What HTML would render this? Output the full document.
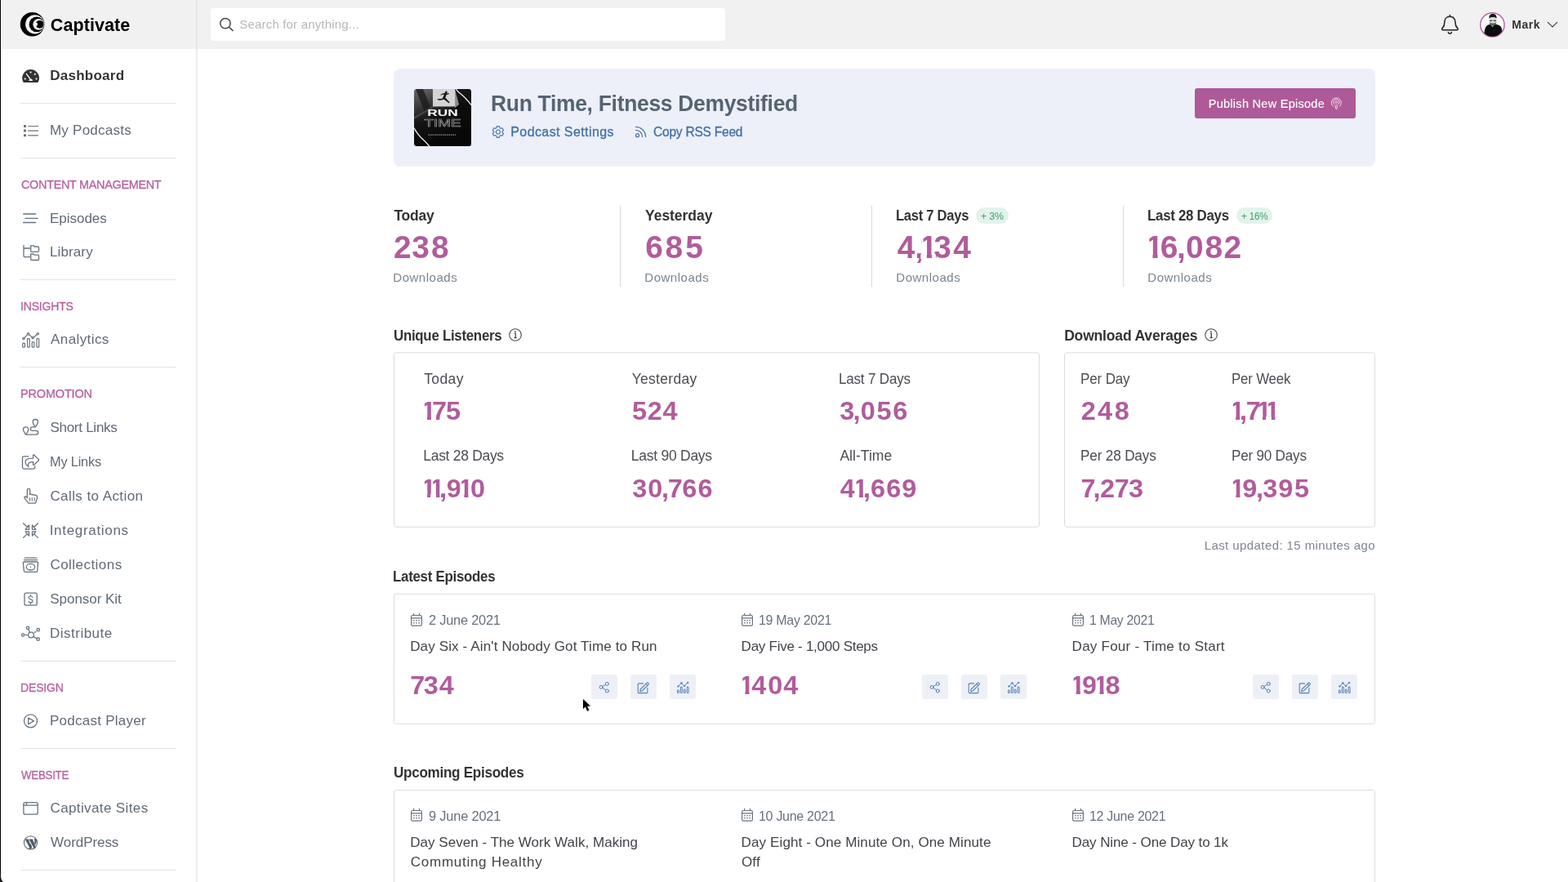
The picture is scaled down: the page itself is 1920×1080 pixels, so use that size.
<!DOCTYPE html>
<html lang="en">
<head>
<meta charset="utf-8">
<title>Captivate - Dashboard</title>
<style>
*{box-sizing:border-box;margin:0;padding:0}
html,body{width:1920px;height:1080px;overflow:hidden;background:#fff}
body{font-family:"Liberation Sans",sans-serif;color:#333;position:relative}
.t{position:absolute;white-space:nowrap;line-height:1;transform-origin:0 50%}
a{text-decoration:none}
text.num{font-family:"Liberation Sans",sans-serif;font-weight:700}
.a{position:absolute}
svg{display:block;overflow:visible}
svg.a{fill:none}
#edge{position:absolute;left:0;top:0;width:1px;height:1080px;background:#000;z-index:50}
#topbar{position:absolute;left:0;top:0;width:1920px;height:60px;background:#f1f1f1}
#sidebg{position:absolute;left:0;top:60px;width:242px;height:1020px;background:#fff;border-right:2px solid #eee}
#topdiv{position:absolute;left:240px;top:0;width:2px;height:60px;background:#e6e6e6}
#search{position:absolute;left:257.5px;top:10px;width:630.5px;height:40px;background:#fff;border-radius:3px}
.hr{position:absolute;left:25px;width:191px;height:1px;background:#e3e3e3}
#hero{position:absolute;left:482px;top:84px;width:1201.5px;height:120px;background:#edf0f9;border-radius:8px}
#pub{position:absolute;left:1463px;top:108px;width:197px;height:37px;background:#ae5a98;border-radius:3px}
.vr{position:absolute;top:252px;width:1px;height:99px;background:#d9d9d9}
.badge{position:absolute;top:253.5px;height:20px;border-radius:10px;background:#e3f3ec}
.btn{position:absolute;top:826px;width:32px;height:30px;border-radius:3px;background:#edf0f7}
</style>
</head>
<body>
<header>
<div id="topbar"></div>
<div id="topdiv"></div>
<div id="search"></div>
<svg class="a" style="left:16px;top:6px" width="48" height="48" viewBox="0 0 48 48" fill="none"><circle cx="23.6" cy="23.7" r="14.8" fill="#000"/><circle cx="26.7" cy="23.8" r="11.6" fill="#f1f1f1"/><circle cx="28.9" cy="23.8" r="9.3" fill="#000"/><circle cx="31.2" cy="23.8" r="6.9" fill="#f1f1f1"/><circle cx="32.7" cy="23.8" r="4.9" fill="#000"/><circle cx="27.9" cy="23.8" r="2.2" fill="#f1f1f1"/></svg>
<svg class="a" style="left:264px;top:16px" width="28" height="28" viewBox="0 0 28 28" fill="none" stroke="#444" stroke-width="1.5" stroke-linecap="round" stroke-linejoin="round"><circle cx="11.9" cy="12.6" r="6.2"/><path d="M16.4 17.2L21 21.4"/></svg>
<svg class="a" style="left:1756px;top:10px" width="40" height="40" viewBox="0 0 40 40" fill="none" stroke="#222" stroke-width="1.6" stroke-linecap="round" stroke-linejoin="round"><path d="M19.4 8.6v1.6M19.4 10.2c-4 0-6.6 3-6.6 7.2c0 4.2-1 5.4-2.7 7.2c-1 1.1-.3 2.1 1 2.1h16.6c1.3 0 2-1 1-2.1c-1.700-1.800-2.700-3-2.700-7.200c0-4.200-2.600-7.200-6.600-7.200z"/><path d="M17.3 29.6c.4 1.100 1.200 1.700 2.100 1.700s1.700-.6 2.100-1.700"/></svg>
<svg class="a" style="left:1808px;top:11px" width="40" height="40" viewBox="0 0 40 40" fill="none"><defs><clipPath id="av"><circle cx="19.4" cy="19.4" r="14.3"/></clipPath></defs><circle cx="19.4" cy="19.4" r="14.7" fill="#fdfdfd" stroke="#b35ea5" stroke-width="1.4"/><g clip-path="url(#av)"><path d="M9.500 34c-.4-6 .5-11 3-13.500c2-1.600 4.500-2 7-2.300c3 .2 6.500.7 9 2.300c2.500 2 3.600 6.500 3.200 13.500z" fill="#0d0d0d"/><path d="M16.600 18.600l3 3.800l2.900-3.800z" fill="#8a8a8a"/><rect x="15.500" y="9.500" width="9" height="9.800" rx="3.200" fill="#d9d9d9"/><path d="M15.400 11.500c-.3-3.600 1.500-5.600 4.600-5.600s4.900 2 4.600 5.600c-1.300-1.100-2.800-1.500-4.600-1.500s-3.300.4-4.600 1.500z" fill="#161616"/><path d="M16 14.400h3.300M20.700 14.400h3.300" stroke="#444" stroke-width="1.300"/><path d="M15.700 16.200c1.200.9 2.700 1.200 4.300 1.200s3.100-.3 4.300-1.200c-.1 2.300-1.700 3.700-4.300 3.700s-4.200-1.400-4.300-3.700z" fill="#5a5a5a"/></g></svg>
<svg class="a" style="left:1892px;top:22px" width="18" height="16" viewBox="0 0 18 16" fill="none" stroke="#333" stroke-width="1.1" stroke-linecap="round" stroke-linejoin="round"><path d="M3.300 5.300L9 10.800L14.700 5.300"/></svg>
<span class="t" style="left:61.83px;top:21.00px;color:#000;font-size:21.5px;font-weight:700;letter-spacing:0.08px;">Captivate</span>
<span class="t" style="left:293.31px;top:22.00px;color:#b7b7b7;font-size:15px;font-weight:400;letter-spacing:0.18px;">Search for anything...</span>
<span class="t" style="left:1851.33px;top:23.00px;color:#333;font-size:14px;font-weight:700;letter-spacing:0.48px;">Mark</span>
</header>
<nav>
<div id="sidebg"></div>
<div class="hr" style="top:126px"></div>
<div class="hr" style="top:193px"></div>
<div class="hr" style="top:342px"></div>
<div class="hr" style="top:449px"></div>
<div class="hr" style="top:809px"></div>
<div class="hr" style="top:916px"></div>
<div class="hr" style="top:1065px"></div>
<svg class="a" style="left:20px;top:76px" width="36" height="36" viewBox="0 0 36 36" fill="none"><path d="M8.800 25c-1-1.600-1.600-3.400-1.600-5.300c0-5.900 4.700-10.700 10.400-10.700s10.400 4.800 10.400 10.700c0 1.900-.6 3.700-1.600 5.300z" fill="#333"/><circle cx="17.6" cy="12.500" r="1.100" fill="#fff"/><circle cx="22.800" cy="14.800" r="1.100" fill="#fff"/><circle cx="10.700" cy="20.500" r="1.100" fill="#fff"/><circle cx="24.500" cy="20.500" r="1.100" fill="#fff"/><path d="M12.300 14.400L17 20.600" stroke="#fff" stroke-width="1.300" stroke-linecap="round"/><path d="M15.400 23c0-1.400 1-2.600 2.300-2.600s2.300 1.200 2.300 2.600z" fill="#fff"/></svg>
<svg class="a" style="left:20px;top:142px" width="36" height="36" viewBox="0 0 36 36" fill="none" stroke="#68727e" stroke-width="1.2" stroke-linecap="round" stroke-linejoin="round"><rect x="9" y="10.900" width="3" height="3" rx=".6" fill="#68727e" stroke="none"/><rect x="9" y="16.600" width="3" height="3" rx=".6" fill="#68727e" stroke="none"/><rect x="9" y="22.300" width="3" height="3" rx=".6" fill="#68727e" stroke="none"/><path d="M14.500 12.500h12M14.500 18.200h12M14.500 23.800h12"/></svg>
<svg class="a" style="left:20px;top:249px" width="36" height="36" viewBox="0 0 36 36" fill="none" stroke="#68727e" stroke-width="1.3" stroke-linecap="round" stroke-linejoin="round"><path d="M8.700 13h15M11 18.300h15.300M8.700 23.500h15"/></svg>
<svg class="a" style="left:20px;top:291px" width="36" height="36" viewBox="0 0 36 36" fill="none" stroke="#68727e" stroke-width="1.3" stroke-linecap="round" stroke-linejoin="round"><path d="M9 9.300v13.300c0 .6.400 1 1 1h6.500M9 13h7.500"/><path d="M17.7 9.8h3.200l1.300 1.200h4.300c.6 0 1 .4 1 1v4.300c0 .6-.4 1-1 1h-7.800c-.6 0-1-.4-1-1v-6.500z"/><path d="M17.7 20h3.200l1.300 1.200h4.300c.6 0 1 .4 1 1v4.300c0 .6-.4 1-1 1h-7.800c-.6 0-1-.4-1-1v-6.500z"/></svg>
<svg class="a" style="left:20px;top:398px" width="36" height="36" viewBox="0 0 36 36" fill="none" stroke="#68727e" stroke-width="1.2" stroke-linecap="round" stroke-linejoin="round"><path d="M9.800 15.700L13.600 11.800M15.500 11.700L19.400 15M21.300 15L25.300 11.500"/><circle cx="9" cy="16.500" r="1.200"/><circle cx="14.500" cy="10.800" r="1.200"/><circle cx="20.300" cy="15.800" r="1.200"/><circle cx="26.300" cy="10.700" r="1.200"/><rect x="7.700" y="22.200" width="2.700" height="5" rx=".8"/><rect x="13.500" y="16.600" width="2.700" height="10.600" rx=".8"/><rect x="19.200" y="20.900" width="2.700" height="6.300" rx=".8"/><rect x="25" y="16.600" width="2.700" height="10.600" rx=".8"/></svg>
<svg class="a" style="left:20px;top:505px" width="36" height="36" viewBox="0 0 36 36" fill="none" stroke="#68727e" stroke-width="1.3" stroke-linecap="round" stroke-linejoin="round"><path d="M23.3 17.8c-1.500-2.200-3.200-4.100-3.200-6.100a3.200 3.200 0 0 1 6.400 0c0 2-1.700 3.900-3.200 6.100z"/><path d="M11.6 27.2c-1.500-2.200-3.200-4.100-3.200-6.100a3.200 3.200 0 0 1 6.400 0c0 2-1.700 3.900-3.200 6.100z"/><path d="M22.500 17.800h-2.900a2.300 2.300 0 0 0 0 4.600h4.700a2.400 2.400 0 0 1 0 4.800h-12"/></svg>
<svg class="a" style="left:20px;top:547px" width="36" height="36" viewBox="0 0 36 36" fill="none" stroke="#68727e" stroke-width="1.3" stroke-linecap="round" stroke-linejoin="round"><path d="M15 11.800h-5.700c-1 0-1.800.8-1.800 1.800v11.700c0 1 .8 1.800 1.800 1.800h11.700c1 0 1.800-.8 1.800-1.800v-1.300"/><path d="M20.600 14.100v-3.700c0-.6.600-.9 1-.5l5.700 5.600c.4.400.4.900 0 1.300l-5.700 5.600c-.4.400-1 .1-1-.5v-3.300c-4 0-6.100.8-6.100 3.500c0 .9.200 1.700.4 2.300c-2.500-1.600-3.800-3.600-3.800-5.700c0-3.700 4-4.600 9.500-4.600z"/></svg>
<svg class="a" style="left:20px;top:589px" width="36" height="36" viewBox="0 0 36 36" fill="none" stroke="#68727e" stroke-width="1.3" stroke-linecap="round" stroke-linejoin="round"><path d="M13.300 19.500v-8.500a1.700 1.700 0 0 1 3.400 0v5.700c.5-.9 2.300-.8 2.700.3c.6-.8 2.200-.6 2.600.5c.8-.7 3.500-.2 3.500 2.200c0 2.300-.7 3.500-1 4.700c-.2 1-.5 2-1.500 2.800h-8c-.8-.8-4.400-5.700-5-6.500c-.6-1 .6-2.100 1.600-1.600c.6.300 1.200.9 1.700 1.400z"/><path d="M16.500 20.600v3.600M19.300 20.600v3.600M22.200 20.600v3.600" stroke-width="1.1"/></svg>
<svg class="a" style="left:20px;top:631px" width="36" height="36" viewBox="0 0 36 36" fill="none" stroke="#68727e" stroke-width="1.3" stroke-linecap="round" stroke-linejoin="round"><path d="M8.500 9.700L13.500 14.500M15.500 12v5.300h-4.500zM26.500 9.700L21.500 14.500M19.500 12v5.300h4.500z"/><path d="M8.500 27.400L13.500 22.600M15.500 25.100v-5.300h-4.500zM26.500 27.400L21.500 22.600M19.500 25.100v-5.300h4.500z"/></svg>
<svg class="a" style="left:20px;top:673px" width="36" height="36" viewBox="0 0 36 36" fill="none" stroke="#68727e" stroke-width="1.3" stroke-linecap="round" stroke-linejoin="round"><path d="M10.200 10.200h14.700M9.400 12.600h16.300"/><path d="M9.600 15h15.800c.8 0 1.300.6 1.200 1.400l-.9 9.600c-.1.800-.7 1.400-1.500 1.400h-13.400c-.8 0-1.400-.6-1.500-1.400l-.9-9.600c-.1-.8.400-1.400 1.200-1.400z"/><ellipse cx="17.500" cy="21.200" rx="5.200" ry="3.800"/><circle cx="17.500" cy="21.200" r=".8" fill="#68727e" stroke="none"/></svg>
<svg class="a" style="left:20px;top:715px" width="36" height="36" viewBox="0 0 36 36" fill="none" stroke="#68727e" stroke-width="1.3" stroke-linecap="round" stroke-linejoin="round"><rect x="10" y="11.200" width="15.200" height="15" rx="2"/><path d="M19.800 16.400c-.3-.9-1.200-1.400-2.300-1.400c-1.400 0-2.400.8-2.400 1.900c0 2.700 5 1.300 5 4c0 1.200-1.100 2-2.600 2c-1.200 0-2.200-.6-2.500-1.500M17.500 13.200v1.800M17.500 22.900v1.800" stroke-width="1.100"/></svg>
<svg class="a" style="left:20px;top:757px" width="36" height="36" viewBox="0 0 36 36" fill="none" stroke="#68727e" stroke-width="1.3" stroke-linecap="round" stroke-linejoin="round"><circle cx="18" cy="20.500" r="3.400"/><circle cx="14" cy="11.800" r="1.700"/><circle cx="26.800" cy="14.200" r="1.700"/><circle cx="8.300" cy="20.500" r="1.700"/><circle cx="26.700" cy="25.700" r="1.700"/><path d="M14.800 13.400l1.800 4M22.400 17.400l1.500-1.200M11.700 20.500h1.300M21 22.600l4.200 2.200"/></svg>
<svg class="a" style="left:20px;top:864px" width="36" height="36" viewBox="0 0 36 36" fill="none" stroke="#68727e" stroke-width="1.3" stroke-linecap="round" stroke-linejoin="round"><circle cx="17.500" cy="18.800" r="8"/><path d="M14.700 15v7.800l6.700-3.900z"/></svg>
<svg class="a" style="left:20px;top:971px" width="36" height="36" viewBox="0 0 36 36" fill="none" stroke="#68727e" stroke-width="1.3" stroke-linecap="round" stroke-linejoin="round"><rect x="8.900" y="11.700" width="17.300" height="14.500" rx="2"/><path d="M8.900 15.200h17.300M12.500 11.700v3.500"/></svg>
<svg class="a" style="left:20px;top:1013px" width="36" height="36" viewBox="0 0 36 36" fill="none"><circle cx="17.500" cy="18.800" r="8.100" stroke="#5b6673" stroke-width="1.100"/><path d="M10.600 14.400h4.200l3.600 10.300l-1 2.300zM15.300 14.400h4.700l3.500 10l-1.200 2.500zM21.600 14.200c1.600-.9 3.200.2 3.200 2c0 1.200-.5 2.400-1.700 6.300l-1.100-3.200c.6-2 .5-3.700-.4-5.100zM17.700 19.800l1.600 4.600l-1.900 2.300l-2.100-.2z" fill="#4f5b69"/></svg>
<a class="t" style="left:61.19px;top:84.00px;color:#333;font-size:17px;font-weight:700;letter-spacing:0.26px;">Dashboard</a>
<a class="t" style="left:60.96px;top:151.00px;color:#606a76;font-size:17px;font-weight:400;letter-spacing:0.24px;">My Podcasts</a>
<h3 class="t" style="left:25.53px;top:219.00px;color:#b6629f;font-size:14.5px;font-weight:400;-webkit-text-stroke:0.3px;letter-spacing:-0.30px;transform:scaleX(0.994);">CONTENT MANAGEMENT</h3>
<a class="t" style="left:60.97px;top:259.00px;color:#606a76;font-size:17px;font-weight:400;letter-spacing:-0.02px;">Episodes</a>
<a class="t" style="left:60.97px;top:300.00px;color:#606a76;font-size:17px;font-weight:400;letter-spacing:0.12px;">Library</a>
<h3 class="t" style="left:24.81px;top:368.00px;color:#b6629f;font-size:14.5px;font-weight:400;-webkit-text-stroke:0.3px;letter-spacing:-0.20px;transform:scaleX(0.967);">INSIGHTS</h3>
<a class="t" style="left:62.10px;top:407.00px;color:#606a76;font-size:17px;font-weight:400;letter-spacing:0.40px;">Analytics</a>
<h3 class="t" style="left:25.04px;top:475.00px;color:#b6629f;font-size:14.5px;font-weight:400;-webkit-text-stroke:0.3px;letter-spacing:-0.18px;">PROMOTION</h3>
<a class="t" style="left:61.38px;top:515.00px;color:#606a76;font-size:17px;font-weight:400;letter-spacing:-0.26px;">Short Links</a>
<a class="t" style="left:61.12px;top:557.00px;color:#606a76;font-size:17px;font-weight:400;letter-spacing:-0.20px;transform:scaleX(0.961);">My Links</a>
<a class="t" style="left:61.40px;top:599.00px;color:#606a76;font-size:17px;font-weight:400;letter-spacing:0.42px;">Calls to Action</a>
<a class="t" style="left:60.72px;top:641.00px;color:#606a76;font-size:17px;font-weight:400;letter-spacing:0.68px;">Integrations</a>
<a class="t" style="left:61.40px;top:683.00px;color:#606a76;font-size:17px;font-weight:400;letter-spacing:0.46px;">Collections</a>
<a class="t" style="left:61.27px;top:725.00px;color:#606a76;font-size:17px;font-weight:400;letter-spacing:-0.04px;">Sponsor Kit</a>
<a class="t" style="left:61.05px;top:767.00px;color:#606a76;font-size:17px;font-weight:400;letter-spacing:0.48px;">Distribute</a>
<h3 class="t" style="left:25.00px;top:835.00px;color:#b6629f;font-size:14.5px;font-weight:400;-webkit-text-stroke:0.3px;letter-spacing:-0.18px;transform:scaleX(0.968);">DESIGN</h3>
<a class="t" style="left:60.98px;top:874.00px;color:#606a76;font-size:17px;font-weight:400;letter-spacing:0.26px;">Podcast Player</a>
<h3 class="t" style="left:26.45px;top:942.00px;color:#b6629f;font-size:14.5px;font-weight:400;-webkit-text-stroke:0.3px;letter-spacing:-0.30px;transform:scaleX(0.919);">WEBSITE</h3>
<a class="t" style="left:61.52px;top:981.00px;color:#606a76;font-size:17px;font-weight:400;letter-spacing:0.38px;">Captivate Sites</a>
<a class="t" style="left:62.09px;top:1023.00px;color:#606a76;font-size:17px;font-weight:400;letter-spacing:-0.06px;">WordPress</a>
</nav>
<main>
<section>
<div id="hero"></div>
<div id="pub"></div>
<svg class="a" style="left:507px;top:109px" width="70" height="70" viewBox="0 0 70 70"><defs><clipPath id="cv"><rect width="70" height="70" rx="3.5"/></clipPath><linearGradient id="cg" x1="0" y1="0" x2=".35" y2="1"><stop offset="0" stop-color="#6a6a6a"/><stop offset=".3" stop-color="#3a3a3a"/><stop offset=".55" stop-color="#151515"/><stop offset="1" stop-color="#050505"/></linearGradient></defs><g clip-path="url(#cv)"><rect width="70" height="70" fill="url(#cg)"/><path d="M2 0l9 0l9 22l-7 6z" fill="#1d1d1d" opacity=".8"/><path d="M0 34l23-13l0 2l-23 14z" fill="#5a5a5a" opacity=".6"/><path d="M50 0h20v70h-40l22-30z" fill="#0a0a0a" opacity=".75"/><path d="M50 0l5 19l-5 4z" fill="#8a8a8a"/><rect x="23" y="0" width="27.200" height="21.400" fill="#d3d3d3"/><path d="M38.400 5.200c-1.800-.4-3.600.2-5.600 1.600c-.7.500-.2 1.200.5.800c1.300-.8 2.500-1.200 3.500-1c-.4 1.500-.9 3-2 4.800c-1.300.6-3.200.7-5.500.5c-.9 0-.9 1.200 0 1.400c2.800.6 5.200.4 6.900-.7c1.900 1.300 3.900 2.800 6.100 4.500c.8.600 1.600-.3 1-1c-1.700-2.100-3.400-3.900-5-5.400c.6-1.200 1-2.500 1.300-3.700c1.100.1 2.100-.2 3.200-.9c.6-.5.100-1.200-.6-.9c-.9.400-1.700.5-2.500.3a1.400 1.400 0 1 0-1.300-.3z" fill="#151515"/><path d="M51.300 0c1.500 2.500 3.500 4.500 6.500 6.500c3.500 2.800 7.500 7 12.200 13" stroke="#f1f1f1" stroke-width="1.300" fill="none"/><path d="M0 47.500c2 4 4 7.500 8 11.500c4 3.500 7.500 7 10.700 11" stroke="#f1f1f1" stroke-width="1.300" fill="none"/><text x="35" y="33.400" text-anchor="middle" font-family="Liberation Sans,sans-serif" font-weight="700" font-size="10.700" textLength="37.400" lengthAdjust="spacingAndGlyphs" fill="#fff">RUN</text><text x="35" y="45.700" text-anchor="middle" font-family="Liberation Sans,sans-serif" font-weight="400" font-size="13.300" textLength="45" lengthAdjust="spacingAndGlyphs" fill="none" stroke="#a9a9a9" stroke-width=".55">TIME</text><path d="M17.500 56.200h33.500" stroke="#9a9a9a" stroke-width="1.300" stroke-dasharray="1.500 1"/></g></svg>
<svg class="a" style="left:596px;top:146px" width="36" height="36" viewBox="0 0 36 36" fill="none" stroke="#4f78ab" stroke-width="1.2" stroke-linecap="round" stroke-linejoin="round"><path d="M12.30 8.68L15.50 8.68L15.85 10.57L17.19 11.35L19.00 10.71L20.60 13.48L19.14 14.73L19.14 16.27L20.60 17.52L19.00 20.29L17.19 19.65L15.85 20.43L15.50 22.32L12.30 22.32L11.95 20.43L10.61 19.65L8.80 20.29L7.20 17.52L8.66 16.27L8.66 14.73L7.20 13.48L8.80 10.71L10.61 11.35L11.95 10.57z"/><circle cx="13.900" cy="15.500" r="2.500"/></svg>
<svg class="a" style="left:766px;top:146px" width="36" height="36" viewBox="0 0 36 36" fill="none" stroke="#4f78ab" stroke-width="1.3" stroke-linecap="round" stroke-linejoin="round"><circle cx="14.500" cy="19.700" r="2"/><path d="M12.500 13.300c4.500 0 8.100 3.700 8.100 8.300M12.500 9.400c6.700 0 12.100 5.500 12.100 12.200"/></svg>
<svg class="a" style="left:1620px;top:109px" width="36" height="36" viewBox="0 0 36 36" fill="none" stroke="#f6dff0" stroke-width="1" stroke-linecap="round" stroke-linejoin="round"><path d="M12.300 21.400a6 6 0 1 1 8 0M14 19a3.600 3.600 0 1 1 4.600 0" stroke-width="1"/><circle cx="16.300" cy="16.200" r="1.300" stroke-width="1"/><path d="M15.100 20.200c0-1 2.400-1 2.400 0l-.5 4c-.1.900-1.300.9-1.400 0z" stroke-width="1"/></svg>
<h1 class="t" style="left:601.37px;top:113.00px;color:#566373;font-size:27.5px;font-weight:700;letter-spacing:-0.30px;transform:scaleX(0.961);">Run Time, Fitness Demystified</h1>
<a class="t" style="left:625.22px;top:154.00px;color:#4171a6;font-size:16px;font-weight:400;-webkit-text-stroke:0.3px;letter-spacing:0.42px;">Podcast Settings</a>
<a class="t" style="left:799.83px;top:154.00px;color:#4171a6;font-size:16px;font-weight:400;-webkit-text-stroke:0.3px;letter-spacing:-0.22px;transform:scaleX(0.969);">Copy RSS Feed</a>
<span class="t" style="left:1479.73px;top:120.00px;color:#fff;font-size:14.5px;font-weight:400;-webkit-text-stroke:0.12px;letter-spacing:0.28px;">Publish New Episode</span>
</section>
<section>
<div class="vr" style="left:759px"></div>
<div class="vr" style="left:1067px"></div>
<div class="vr" style="left:1375px"></div>
<div class="badge" style="left:1195px;width:40px"></div>
<div class="badge" style="left:1514px;width:44px"></div>
<span class="t" style="left:482.40px;top:256.00px;color:#333;font-size:17.5px;font-weight:700;letter-spacing:-0.20px;">Today</span>
<svg class="a" style="left:477px;top:277px" width="82" height="50"><text class="num" transform="scale(1.011 1)" x="5.01 27.00 50.48" y="39.00" font-size="38.5" fill="#b05c9c">238</text></svg>
<span class="t" style="left:481.31px;top:332.00px;color:#7b848c;font-size:15px;font-weight:400;letter-spacing:0.52px;">Downloads</span>
<span class="t" style="left:790.03px;top:256.00px;color:#333;font-size:17.5px;font-weight:700;letter-spacing:-0.04px;">Yesterday</span>
<svg class="a" style="left:785px;top:277px" width="85" height="50"><text class="num" transform="scale(1.011 1)" x="5.25 29.08 53.66" y="39.00" font-size="38.5" fill="#b05c9c">685</text></svg>
<span class="t" style="left:789.31px;top:332.00px;color:#7b848c;font-size:15px;font-weight:400;letter-spacing:0.52px;">Downloads</span>
<span class="t" style="left:1097.41px;top:256.00px;color:#333;font-size:17.5px;font-weight:700;letter-spacing:-0.30px;transform:scaleX(0.948);">Last 7 Days</span>
<svg class="a" style="left:1092px;top:277px" width="106" height="50"><clipPath id="k1"><path clip-rule="evenodd" d="M-9 -9h123v68h-123zM36.30 8.20H38.08V34.19H36.30zM34.91 34.19H42.32V40.00H34.91zM48.39 34.19H53.26V40.00H48.39z"/></clipPath><text class="num" transform="scale(1.011 1)" x="6.69 28.05 33.76 50.72 74.41" y="39.00" font-size="38.5" fill="#b05c9c" clip-path="url(#k1)">4,134</text></svg>
<span class="t" style="left:1097.31px;top:332.00px;color:#7b848c;font-size:15px;font-weight:400;letter-spacing:0.52px;">Downloads</span>
<span class="t" style="left:1405.35px;top:256.00px;color:#333;font-size:17.5px;font-weight:700;letter-spacing:-0.30px;transform:scaleX(0.965);">Last 28 Days</span>
<svg class="a" style="left:1401px;top:277px" width="128" height="50"><clipPath id="k2"><path clip-rule="evenodd" d="M-9 -9h145v68h-145zM1.01 8.20H6.24V34.19H1.01zM1.01 34.19H10.35V40.00H1.01zM16.41 34.19H22.11V40.00H16.41z"/></clipPath><text class="num" transform="scale(1.011 1)" x="1.78 19.57 39.49 50.43 73.82 96.49" y="39.00" font-size="38.5" fill="#b05c9c" clip-path="url(#k2)">16,082</text></svg>
<span class="t" style="left:1405.31px;top:332.00px;color:#7b848c;font-size:15px;font-weight:400;letter-spacing:0.52px;">Downloads</span>
<span class="t" style="left:1201.00px;top:258.00px;color:#3f9f6f;font-size:13px;font-weight:400;letter-spacing:-0.22px;transform:scaleX(0.954);">+ 3%</span>
<span class="t" style="left:1520.15px;top:258.00px;color:#3f9f6f;font-size:13px;font-weight:400;letter-spacing:-0.18px;transform:scaleX(0.895);">+ 16%</span>
</section>
<section>
<svg class="a" style="left:0;top:0" width="1920" height="1080"><rect x="482.5" y="431.8" width="790.00" height="213.50" rx="2.8" fill="#fff" stroke="#dcdcdc"/></svg>
<svg class="a" style="left:616.1px;top:395.3px" width="30" height="30" viewBox="0 0 30 30" fill="none" stroke="#4a4a4a" stroke-width="1.1" stroke-linecap="round" stroke-linejoin="round"><circle cx="15" cy="15" r="7.300"/><path d="M14.300 13.100h1v5.300M13.900 18.500h2.300" stroke-width="1.300"/><circle cx="14.900" cy="11.100" r=".9" fill="#333" stroke="none"/></svg>
<h2 class="t" style="left:481.73px;top:403.00px;color:#333;font-size:17.5px;font-weight:700;letter-spacing:-0.30px;transform:scaleX(0.965);">Unique Listeners</h2>
<span class="t" style="left:519.20px;top:456.00px;color:#4a4d52;font-size:17.5px;font-weight:400;letter-spacing:0.40px;">Today</span>
<span class="t" style="left:773.68px;top:456.00px;color:#4a4d52;font-size:17.5px;font-weight:400;letter-spacing:0.30px;">Yesterday</span>
<span class="t" style="left:1027.31px;top:456.00px;color:#4a4d52;font-size:17.5px;font-weight:400;letter-spacing:-0.18px;transform:scaleX(0.971);">Last 7 Days</span>
<span class="t" style="left:518.28px;top:550.00px;color:#4a4d52;font-size:17.5px;font-weight:400;letter-spacing:-0.30px;">Last 28 Days</span>
<span class="t" style="left:772.83px;top:550.00px;color:#4a4d52;font-size:17.5px;font-weight:400;letter-spacing:-0.26px;">Last 90 Days</span>
<span class="t" style="left:1028.39px;top:550.00px;color:#4a4d52;font-size:17.5px;font-weight:400;letter-spacing:0.04px;">All-Time</span>
<svg class="a" style="left:513px;top:482px" width="60" height="40"><clipPath id="k3"><path clip-rule="evenodd" d="M-9 -9h76v58h-76zM1.98 7.10H6.70V28.36H1.98zM1.98 28.36H9.62V33.30H1.98zM14.58 28.36H20.25V33.30H14.58z"/></clipPath><text class="num" transform="scale(1.029 1)" x="2.61 15.58 32.05" y="32.30" font-size="31.5" fill="#b05c9c" clip-path="url(#k3)">175</text></svg>
<svg class="a" style="left:769px;top:482px" width="71" height="40"><text class="num" transform="scale(1.029 1)" x="4.83 22.97 41.30" y="32.30" font-size="31.5" fill="#b05c9c">524</text></svg>
<svg class="a" style="left:1023px;top:482px" width="98" height="40"><text class="num" transform="scale(1.029 1)" x="5.13 20.97 30.00 48.98 68.29" y="32.30" font-size="31.5" fill="#b05c9c">3,056</text></svg>
<svg class="a" style="left:513px;top:577px" width="90" height="40"><clipPath id="k4"><path clip-rule="evenodd" d="M-9 -9h105v58h-105zM2.15 6.40H6.70V27.66H2.15zM14.68 6.40H16.73V27.66H14.68zM49.05 6.40H50.72V27.66H49.05zM2.15 27.66H9.79V32.60H2.15zM13.75 27.66H20.42V32.60H13.75zM24.78 27.66H26.32V32.60H24.78zM47.86 27.66H53.80V32.60H47.86zM58.76 27.66H63.58V32.60H58.76z"/></clipPath><text class="num" transform="scale(1.029 1)" x="2.78 12.81 24.63 32.80 46.79 61.32" y="31.60" font-size="31.5" fill="#b05c9c" clip-path="url(#k4)">11,910</text></svg>
<svg class="a" style="left:769px;top:577px" width="113" height="40"><text class="num" transform="scale(1.029 1)" x="5.14 23.70 39.80 47.32 64.47 83.11" y="31.60" font-size="31.5" fill="#b05c9c">30,766</text></svg>
<svg class="a" style="left:1022px;top:577px" width="109" height="40"><clipPath id="k5"><path clip-rule="evenodd" d="M-9 -9h124v58h-124zM23.93 6.40H25.83V27.66H23.93zM23.06 27.66H29.13V32.60H23.06zM34.09 27.66H35.75V32.60H34.09z"/></clipPath><text class="num" transform="scale(1.029 1)" x="6.68 22.12 34.07 42.73 61.44 80.00" y="31.60" font-size="31.5" fill="#b05c9c" clip-path="url(#k5)">41,669</text></svg>
</section>
<section>
<svg class="a" style="left:0;top:0" width="1920" height="1080"><rect x="1303.5" y="431.8" width="380.00" height="213.50" rx="2.8" fill="#fff" stroke="#dcdcdc"/></svg>
<svg class="a" style="left:1468.2px;top:395.3px" width="30" height="30" viewBox="0 0 30 30" fill="none" stroke="#4a4a4a" stroke-width="1.1" stroke-linecap="round" stroke-linejoin="round"><circle cx="15" cy="15" r="7.300"/><path d="M14.300 13.100h1v5.300M13.900 18.500h2.300" stroke-width="1.300"/><circle cx="14.900" cy="11.100" r=".9" fill="#333" stroke="none"/></svg>
<h2 class="t" style="left:1303.13px;top:403.00px;color:#333;font-size:17.5px;font-weight:700;letter-spacing:-0.16px;">Download Averages</h2>
<span class="t" style="left:1323.07px;top:456.00px;color:#4a4d52;font-size:17.5px;font-weight:400;letter-spacing:-0.14px;transform:scaleX(0.972);">Per Day</span>
<span class="t" style="left:1507.56px;top:456.00px;color:#4a4d52;font-size:17.5px;font-weight:400;letter-spacing:-0.20px;transform:scaleX(0.963);">Per Week</span>
<span class="t" style="left:1323.08px;top:550.00px;color:#4a4d52;font-size:17.5px;font-weight:400;letter-spacing:-0.16px;transform:scaleX(0.979);">Per 28 Days</span>
<span class="t" style="left:1508.08px;top:550.00px;color:#4a4d52;font-size:17.5px;font-weight:400;letter-spacing:-0.22px;transform:scaleX(0.977);">Per 90 Days</span>
<svg class="a" style="left:1318px;top:482px" width="74" height="40"><text class="num" transform="scale(1.029 1)" x="5.59 25.20 45.46" y="32.30" font-size="31.5" fill="#b05c9c">248</text></svg>
<svg class="a" style="left:1503px;top:482px" width="68" height="40"><clipPath id="k6"><path clip-rule="evenodd" d="M-9 -9h84v58h-84zM2.21 7.10H6.70V28.36H2.21zM38.29 7.10H38.56V28.36H38.29zM46.60 7.10H48.67V28.36H46.60zM2.21 28.36H9.85V33.30H2.21zM14.81 28.36H16.38V33.30H14.81zM35.64 28.36H41.71V33.30H35.64zM45.75 28.36H52.34V33.30H45.75zM56.78 28.36H62.45V33.30H56.78z"/></clipPath><text class="num" transform="scale(1.029 1)" x="2.84 14.70 22.04 34.70 44.81" y="32.30" font-size="31.5" fill="#b05c9c" clip-path="url(#k6)">1,711</text></svg>
<svg class="a" style="left:1318px;top:577px" width="91" height="40"><text class="num" transform="scale(1.029 1)" x="5.28 20.00 28.22 45.53 62.09" y="31.60" font-size="31.5" fill="#b05c9c">7,273</text></svg>
<svg class="a" style="left:1503px;top:577px" width="109" height="40"><clipPath id="k7"><path clip-rule="evenodd" d="M-9 -9h124v58h-124zM2.49 6.40H6.70V27.66H2.49zM2.49 27.66H10.13V32.60H2.49zM15.09 27.66H19.97V32.60H15.09z"/></clipPath><text class="num" transform="scale(1.029 1)" x="3.12 17.71 34.03 42.06 60.57 79.70" y="31.60" font-size="31.5" fill="#b05c9c" clip-path="url(#k7)">19,395</text></svg>
<span class="t" style="left:1474.63px;top:660.00px;color:#7f868d;font-size:15px;font-weight:400;letter-spacing:0.42px;">Last updated: 15 minutes ago</span>
</section>
<section>
<svg class="a" style="left:0;top:0" width="1920" height="1080"><rect x="482.5" y="727.3" width="1201.00" height="159.10" rx="2.8" fill="#fff" stroke="#dcdcdc"/></svg>
<div class="btn" style="left:724px"></div><div class="btn" style="left:772px"></div><div class="btn" style="left:820px"></div>
<div class="btn" style="left:1129px"></div><div class="btn" style="left:1177px"></div><div class="btn" style="left:1225px"></div>
<div class="btn" style="left:1534px"></div><div class="btn" style="left:1582px"></div><div class="btn" style="left:1630px"></div>
<svg class="a" style="left:503px;top:750.5px" width="14" height="17" viewBox="0 0 14 17" fill="none" stroke="#69737f" stroke-width="1.2" stroke-linecap="round" stroke-linejoin="round"><rect x=".6" y="2.500" width="12.800" height="12.700" rx="1.600"/><path d="M.6 5.800h12.800M3.600 .4v2.100M10.500 .4v2.100"/><g fill="#5f6b78" stroke="none"><rect x="3.2" y="8" width="1.500" height="1.500" rx=".3"/><rect x="6.25" y="8" width="1.500" height="1.500" rx=".3"/><rect x="9.3" y="8" width="1.500" height="1.500" rx=".3"/><rect x="3.2" y="10.9" width="1.500" height="1.500" rx=".3"/><rect x="6.25" y="10.9" width="1.500" height="1.500" rx=".3"/><rect x="9.3" y="10.9" width="1.500" height="1.500" rx=".3"/></g></svg><svg class="a" style="left:908px;top:750.5px" width="14" height="17" viewBox="0 0 14 17" fill="none" stroke="#69737f" stroke-width="1.2" stroke-linecap="round" stroke-linejoin="round"><rect x=".6" y="2.500" width="12.800" height="12.700" rx="1.600"/><path d="M.6 5.800h12.800M3.600 .4v2.100M10.500 .4v2.100"/><g fill="#5f6b78" stroke="none"><rect x="3.2" y="8" width="1.500" height="1.500" rx=".3"/><rect x="6.25" y="8" width="1.500" height="1.500" rx=".3"/><rect x="9.3" y="8" width="1.500" height="1.500" rx=".3"/><rect x="3.2" y="10.9" width="1.500" height="1.500" rx=".3"/><rect x="6.25" y="10.9" width="1.500" height="1.500" rx=".3"/><rect x="9.3" y="10.9" width="1.500" height="1.500" rx=".3"/></g></svg><svg class="a" style="left:1313px;top:750.5px" width="14" height="17" viewBox="0 0 14 17" fill="none" stroke="#69737f" stroke-width="1.2" stroke-linecap="round" stroke-linejoin="round"><rect x=".6" y="2.500" width="12.800" height="12.700" rx="1.600"/><path d="M.6 5.800h12.800M3.600 .4v2.100M10.500 .4v2.100"/><g fill="#5f6b78" stroke="none"><rect x="3.2" y="8" width="1.500" height="1.500" rx=".3"/><rect x="6.25" y="8" width="1.500" height="1.500" rx=".3"/><rect x="9.3" y="8" width="1.500" height="1.500" rx=".3"/><rect x="3.2" y="10.9" width="1.500" height="1.500" rx=".3"/><rect x="6.25" y="10.9" width="1.500" height="1.500" rx=".3"/><rect x="9.3" y="10.9" width="1.500" height="1.500" rx=".3"/></g></svg>
<svg class="a" style="left:724px;top:826px" width="32" height="30" viewBox="0 0 32 30" fill="none" stroke="#5580b5" stroke-width="1" stroke-linecap="round" stroke-linejoin="round"><circle cx="19.300" cy="11.300" r="2"/><circle cx="12.100" cy="15.400" r="2"/><circle cx="19.300" cy="20" r="2"/><path d="M13.900 14.400l3.600-2.100M13.900 16.500l3.600 2.300"/></svg><svg class="a" style="left:772px;top:826px" width="32" height="30" viewBox="0 0 32 30" fill="none" stroke="#5580b5" stroke-width="1.1" stroke-linecap="round" stroke-linejoin="round"><path d="M15.500 10.900h-5.200c-.6 0-1.100.5-1.100 1.100v9.500c0 .6.500 1.100 1.100 1.100h9.500c.6 0 1.100-.5 1.100-1.100v-5.200"/><path d="M19.900 10.300a1.400 1.400 0 0 1 2 2l-7.700 7.700l-2.600.6l.6-2.600zM18.800 11.400l2 2"/></svg><svg class="a" style="left:821.7px;top:826px" width="32" height="30" viewBox="0 0 32 30" fill="none" stroke="#5580b5" stroke-width="1" stroke-linecap="round" stroke-linejoin="round"><path d="M8.700 14.100l3.400-3.500l3.800 3.200l3.900-3.600"/><circle cx="8.400" cy="14.500" r=".8"/><circle cx="12.200" cy="10.300" r=".8"/><circle cx="16" cy="14" r=".8"/><circle cx="20" cy="10" r=".8"/><rect x="7.500" y="19.200" width="1.900" height="3.400" rx=".5"/><rect x="11.400" y="15.200" width="1.900" height="7.400" rx=".5"/><rect x="15.300" y="18.300" width="1.900" height="4.300" rx=".5"/><rect x="19.200" y="15.200" width="1.900" height="7.400" rx=".5"/></svg><svg class="a" style="left:1129px;top:826px" width="32" height="30" viewBox="0 0 32 30" fill="none" stroke="#5580b5" stroke-width="1" stroke-linecap="round" stroke-linejoin="round"><circle cx="19.300" cy="11.300" r="2"/><circle cx="12.100" cy="15.400" r="2"/><circle cx="19.300" cy="20" r="2"/><path d="M13.900 14.400l3.600-2.100M13.900 16.500l3.600 2.300"/></svg><svg class="a" style="left:1177px;top:826px" width="32" height="30" viewBox="0 0 32 30" fill="none" stroke="#5580b5" stroke-width="1.1" stroke-linecap="round" stroke-linejoin="round"><path d="M15.500 10.900h-5.200c-.6 0-1.100.5-1.100 1.100v9.500c0 .6.500 1.100 1.100 1.100h9.500c.6 0 1.100-.5 1.100-1.100v-5.200"/><path d="M19.900 10.300a1.400 1.400 0 0 1 2 2l-7.700 7.700l-2.600.6l.6-2.600zM18.800 11.400l2 2"/></svg><svg class="a" style="left:1226.7px;top:826px" width="32" height="30" viewBox="0 0 32 30" fill="none" stroke="#5580b5" stroke-width="1" stroke-linecap="round" stroke-linejoin="round"><path d="M8.700 14.100l3.400-3.500l3.800 3.200l3.900-3.600"/><circle cx="8.400" cy="14.500" r=".8"/><circle cx="12.200" cy="10.300" r=".8"/><circle cx="16" cy="14" r=".8"/><circle cx="20" cy="10" r=".8"/><rect x="7.500" y="19.200" width="1.900" height="3.400" rx=".5"/><rect x="11.400" y="15.200" width="1.900" height="7.400" rx=".5"/><rect x="15.300" y="18.300" width="1.900" height="4.300" rx=".5"/><rect x="19.200" y="15.200" width="1.900" height="7.400" rx=".5"/></svg><svg class="a" style="left:1534px;top:826px" width="32" height="30" viewBox="0 0 32 30" fill="none" stroke="#5580b5" stroke-width="1" stroke-linecap="round" stroke-linejoin="round"><circle cx="19.300" cy="11.300" r="2"/><circle cx="12.100" cy="15.400" r="2"/><circle cx="19.300" cy="20" r="2"/><path d="M13.900 14.400l3.600-2.100M13.900 16.500l3.600 2.300"/></svg><svg class="a" style="left:1582px;top:826px" width="32" height="30" viewBox="0 0 32 30" fill="none" stroke="#5580b5" stroke-width="1.1" stroke-linecap="round" stroke-linejoin="round"><path d="M15.500 10.900h-5.200c-.6 0-1.100.5-1.100 1.100v9.500c0 .6.500 1.100 1.100 1.100h9.500c.6 0 1.100-.5 1.100-1.100v-5.200"/><path d="M19.900 10.300a1.400 1.400 0 0 1 2 2l-7.700 7.700l-2.600.6l.6-2.600zM18.800 11.400l2 2"/></svg><svg class="a" style="left:1631.7px;top:826px" width="32" height="30" viewBox="0 0 32 30" fill="none" stroke="#5580b5" stroke-width="1" stroke-linecap="round" stroke-linejoin="round"><path d="M8.700 14.100l3.400-3.500l3.800 3.200l3.900-3.600"/><circle cx="8.400" cy="14.500" r=".8"/><circle cx="12.200" cy="10.300" r=".8"/><circle cx="16" cy="14" r=".8"/><circle cx="20" cy="10" r=".8"/><rect x="7.500" y="19.200" width="1.900" height="3.400" rx=".5"/><rect x="11.400" y="15.200" width="1.900" height="7.400" rx=".5"/><rect x="15.300" y="18.300" width="1.900" height="4.300" rx=".5"/><rect x="19.200" y="15.200" width="1.900" height="7.400" rx=".5"/></svg>
<h2 class="t" style="left:481.37px;top:698.00px;color:#333;font-size:17.5px;font-weight:700;letter-spacing:-0.30px;transform:scaleX(0.966);">Latest Episodes</h2>
<span class="t" style="left:524.89px;top:751.00px;color:#66717e;font-size:17px;font-weight:400;letter-spacing:-0.24px;transform:scaleX(0.964);">2 June 2021</span>
<h4 class="t" style="left:502.17px;top:783.00px;color:#414449;font-size:17px;font-weight:400;letter-spacing:0.14px;">Day Six - Ain't Nobody Got Time to Run</h4>
<svg class="a" style="left:497px;top:818px" width="69" height="40"><text class="num" transform="scale(1.029 1)" x="5.11 21.16 39.72" y="31.70" font-size="31.5" fill="#b05c9c">734</text></svg>
<span class="t" style="left:929.37px;top:751.00px;color:#66717e;font-size:17px;font-weight:400;letter-spacing:-0.28px;transform:scaleX(0.936);">19 May 2021</span>
<h4 class="t" style="left:907.61px;top:783.00px;color:#414449;font-size:17px;font-weight:400;letter-spacing:-0.26px;">Day Five - 1,000 Steps</h4>
<svg class="a" style="left:903px;top:818px" width="85" height="40"><clipPath id="k8"><path clip-rule="evenodd" d="M-9 -9h101v58h-101zM1.50 6.50H6.13V27.76H1.50zM1.50 27.76H9.14V32.70H1.50zM14.10 27.76H19.77V32.70H14.10z"/></clipPath><text class="num" transform="scale(1.029 1)" x="2.13 16.86 36.12 54.79" y="31.70" font-size="31.5" fill="#b05c9c" clip-path="url(#k8)">1404</text></svg>
<span class="t" style="left:1334.13px;top:751.00px;color:#66717e;font-size:17px;font-weight:400;letter-spacing:-0.30px;transform:scaleX(0.925);">1 May 2021</span>
<h4 class="t" style="left:1312.61px;top:783.00px;color:#414449;font-size:17px;font-weight:400;letter-spacing:0.24px;">Day Four - Time to Start</h4>
<svg class="a" style="left:1308px;top:818px" width="73" height="40"><clipPath id="k9"><path clip-rule="evenodd" d="M-9 -9h89v58h-89zM1.82 6.50H6.42V27.76H1.82zM32.73 6.50H34.34V27.76H32.73zM1.82 27.76H9.46V32.70H1.82zM14.42 27.76H18.74V32.70H14.42zM31.54 27.76H37.38V32.70H31.54zM42.34 27.76H46.55V32.70H42.34z"/></clipPath><text class="num" transform="scale(1.029 1)" x="2.45 16.48 30.37 44.29" y="31.70" font-size="31.5" fill="#b05c9c" clip-path="url(#k9)">1918</text></svg>
</section>
<section>
<svg class="a" style="left:0;top:0" width="1920" height="1080"><rect x="482.5" y="967.5" width="1201.00" height="132.50" rx="2.8" fill="#fff" stroke="#dcdcdc"/></svg>
<svg class="a" style="left:503px;top:989.7px" width="14" height="17" viewBox="0 0 14 17" fill="none" stroke="#69737f" stroke-width="1.2" stroke-linecap="round" stroke-linejoin="round"><rect x=".6" y="2.500" width="12.800" height="12.700" rx="1.600"/><path d="M.6 5.800h12.800M3.600 .4v2.100M10.500 .4v2.100"/><g fill="#5f6b78" stroke="none"><rect x="3.2" y="8" width="1.500" height="1.500" rx=".3"/><rect x="6.25" y="8" width="1.500" height="1.500" rx=".3"/><rect x="9.3" y="8" width="1.500" height="1.500" rx=".3"/><rect x="3.2" y="10.9" width="1.500" height="1.500" rx=".3"/><rect x="6.25" y="10.9" width="1.500" height="1.500" rx=".3"/><rect x="9.3" y="10.9" width="1.500" height="1.500" rx=".3"/></g></svg><svg class="a" style="left:908px;top:989.7px" width="14" height="17" viewBox="0 0 14 17" fill="none" stroke="#69737f" stroke-width="1.2" stroke-linecap="round" stroke-linejoin="round"><rect x=".6" y="2.500" width="12.800" height="12.700" rx="1.600"/><path d="M.6 5.800h12.800M3.600 .4v2.100M10.500 .4v2.100"/><g fill="#5f6b78" stroke="none"><rect x="3.2" y="8" width="1.500" height="1.500" rx=".3"/><rect x="6.25" y="8" width="1.500" height="1.500" rx=".3"/><rect x="9.3" y="8" width="1.500" height="1.500" rx=".3"/><rect x="3.2" y="10.9" width="1.500" height="1.500" rx=".3"/><rect x="6.25" y="10.9" width="1.500" height="1.500" rx=".3"/><rect x="9.3" y="10.9" width="1.500" height="1.500" rx=".3"/></g></svg><svg class="a" style="left:1313px;top:989.7px" width="14" height="17" viewBox="0 0 14 17" fill="none" stroke="#69737f" stroke-width="1.2" stroke-linecap="round" stroke-linejoin="round"><rect x=".6" y="2.500" width="12.800" height="12.700" rx="1.600"/><path d="M.6 5.800h12.800M3.600 .4v2.100M10.500 .4v2.100"/><g fill="#5f6b78" stroke="none"><rect x="3.2" y="8" width="1.500" height="1.500" rx=".3"/><rect x="6.25" y="8" width="1.500" height="1.500" rx=".3"/><rect x="9.3" y="8" width="1.500" height="1.500" rx=".3"/><rect x="3.2" y="10.9" width="1.500" height="1.500" rx=".3"/><rect x="6.25" y="10.9" width="1.500" height="1.500" rx=".3"/><rect x="9.3" y="10.9" width="1.500" height="1.500" rx=".3"/></g></svg>
<h2 class="t" style="left:481.62px;top:938.00px;color:#333;font-size:17.5px;font-weight:700;letter-spacing:-0.30px;transform:scaleX(0.977);">Upcoming Episodes</h2>
<span class="t" style="left:524.87px;top:991.00px;color:#66717e;font-size:17px;font-weight:400;letter-spacing:-0.20px;transform:scaleX(0.965);">9 June 2021</span>
<span class="t" style="left:929.10px;top:991.00px;color:#66717e;font-size:17px;font-weight:400;letter-spacing:-0.30px;transform:scaleX(0.941);">10 June 2021</span>
<span class="t" style="left:1334.10px;top:991.00px;color:#66717e;font-size:17px;font-weight:400;letter-spacing:-0.30px;transform:scaleX(0.938);">12 June 2021</span>
<h4 class="t" style="left:502.23px;top:1023.00px;color:#414449;font-size:17px;font-weight:400;letter-spacing:0.04px;">Day Seven - The Work Walk, Making</h4>
<h4 class="t" style="left:502.83px;top:1047.00px;color:#414449;font-size:17px;font-weight:400;letter-spacing:0.72px;">Commuting Healthy</h4>
<h4 class="t" style="left:907.61px;top:1023.00px;color:#414449;font-size:17px;font-weight:400;letter-spacing:0.12px;">Day Eight - One Minute On, One Minute</h4>
<h4 class="t" style="left:907.94px;top:1047.00px;color:#414449;font-size:17px;font-weight:400;letter-spacing:0.18px;">Off</h4>
<h4 class="t" style="left:1312.59px;top:1023.00px;color:#414449;font-size:17px;font-weight:400;letter-spacing:-0.10px;">Day Nine - One Day to 1k</h4>
</section>
</main>
<svg class="a" style="left:704px;top:848px" width="30" height="30" viewBox="0 0 30 30" fill="none"><path d="M9.900 8.100v12.200l2.900-2.700l2.300 5.200l2.300-1l-2.300-5.100l3.900-.3z" fill="#000" stroke="#fff" stroke-width="1.800" stroke-linejoin="round" paint-order="stroke" style="filter:drop-shadow(0 .5px .6px rgba(0,0,0,.35))"/></svg>
<div id="edge"></div>
<div class="a" style="left:1px;top:0;width:1px;height:60px;background:#fff;z-index:50"></div>
<svg class="a" style="left:0;top:1070px;z-index:51" width="6" height="10" viewBox="0 0 6 10"><path d="M0 0h1c0 5 .5 8 3.200 10h-4.200z" fill="#1a1a1a"/></svg>
</body>
</html>
